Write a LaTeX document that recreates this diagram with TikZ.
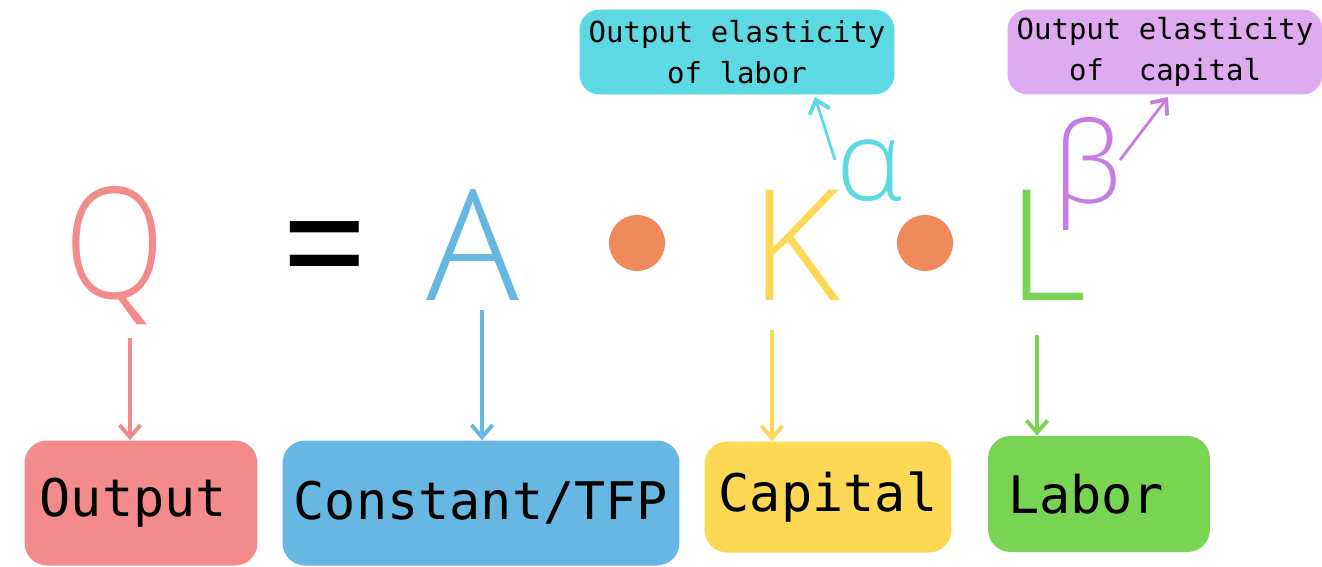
\documentclass[tikz,border=0pt]{standalone}
\usepackage{fontspec}
\setmainfont{Open Sans}
\setmonofont{DejaVu Sans Mono}
\IfFontExistsTF{Open Sans Light}{\newfontfamily\lightfont{Open Sans Light}}{\newfontfamily\lightfont{Open Sans}}
\usetikzlibrary{arrows.meta}
\definecolor{cpink}{HTML}{F48B8B}
\definecolor{cblue}{HTML}{66B8E2}
\definecolor{cyel}{HTML}{FDD855}
\definecolor{cgreen}{HTML}{78D452}
\definecolor{ccyan}{HTML}{5DD9E3}
\definecolor{cpurp}{HTML}{C87CE3}
\definecolor{cpurpbox}{HTML}{DFAAF0}
\definecolor{corange}{HTML}{EF8A5A}
\tikzset{
  big/.style={font=\lightfont\fontsize{88}{88}\selectfont, inner sep=0pt, anchor=base},
  sup/.style={font=\lightfont\fontsize{64}{64}\selectfont, inner sep=0pt, anchor=base},
  labelbox/.style={rounded corners=0.45cm, inner sep=0pt, font=\ttfamily\fontsize{29.5}{30}\selectfont, text=black},
  topbox/.style={rounded corners=0.4cm, inner sep=0pt, align=center, font=\ttfamily\fontsize{16.5}{23}\selectfont, text=black, minimum width=6.3cm, minimum height=1.7cm},
  arr/.style={line width=2.2pt, -{Straight Barb[length=7pt,width=12pt,line width=2.2pt]}},
  dotc/.style={circle, fill=corange, minimum size=1.12cm, inner sep=0pt}
}
\begin{document}
\begin{tikzpicture}[x=0.02cm,y=-0.02cm]
\useasboundingbox (0,0) rectangle (1322,566);
% equation
\node[big, text=cpink, xscale=0.85] (Q) at (115,298) {Q};
\node[big, text=black, font=\fontsize{96}{96}\selectfont, xscale=0.9] (eq) at (325,303) {=};
\node[big, text=cblue] (A) at (473,300) {A};
\node[dotc] (d1) at (637,243) {};
\node[big, text=cyel] (K) at (795,300) {K};
\node[sup, text=ccyan] (al) at (870,200) {α};
\node[dotc] (d2) at (925,243) {};
\node[big, text=cgreen] (L) at (1047,300) {L};
\node[sup, text=cpurp] (be) at (1088,203) {β};
% boxes
\node[labelbox, fill=cpink, minimum width=4.66cm, minimum height=2.5cm] (out) at (141,503) {Output\hspace*{0.3em}\null};
\node[labelbox, fill=cblue, minimum width=7.94cm, minimum height=2.5cm] (tfp) at (481,503) {Constant/TFP};
\node[labelbox, fill=cyel, minimum width=4.94cm, minimum height=2.22cm] (cap) at (828,497) {Capital};
\node[labelbox, fill=cgreen, minimum width=4.44cm, minimum height=2.32cm] (lab) at (1099,494) {Labor\hspace*{0.5em}\null};
\node[topbox, fill=ccyan] (el) at (737,52) {Output elasticity\\of labor};
\node[topbox, fill=cpurpbox] (ek) at (1165,52) {Output elasticity\\of\ \ capital};
% connectors
\coordinate (qs) at (130,338);
\coordinate (as) at (482,310);
\coordinate (ks) at (772,330);
\coordinate (ls) at (1037,335);
\draw[arr, draw=cpink] (qs) -- (qs |- out.north);
\draw[arr, draw=cblue] (as) -- (as |- tfp.north);
\draw[arr, draw=cyel] (ks) -- (ks |- cap.north);
\draw[arr, draw=cgreen] (ls) -- (ls |- lab.north);
\coordinate (als) at (835,160);
\coordinate (ale) at (815,97);
\draw[arr, draw=ccyan, line width=1.6pt] (als) -- (ale);
\coordinate (bes) at (1120,160);
\coordinate (bee) at (1168,97);
\draw[arr, draw=cpurp, line width=1.6pt] (bes) -- (bee);
\end{tikzpicture}
\end{document}
